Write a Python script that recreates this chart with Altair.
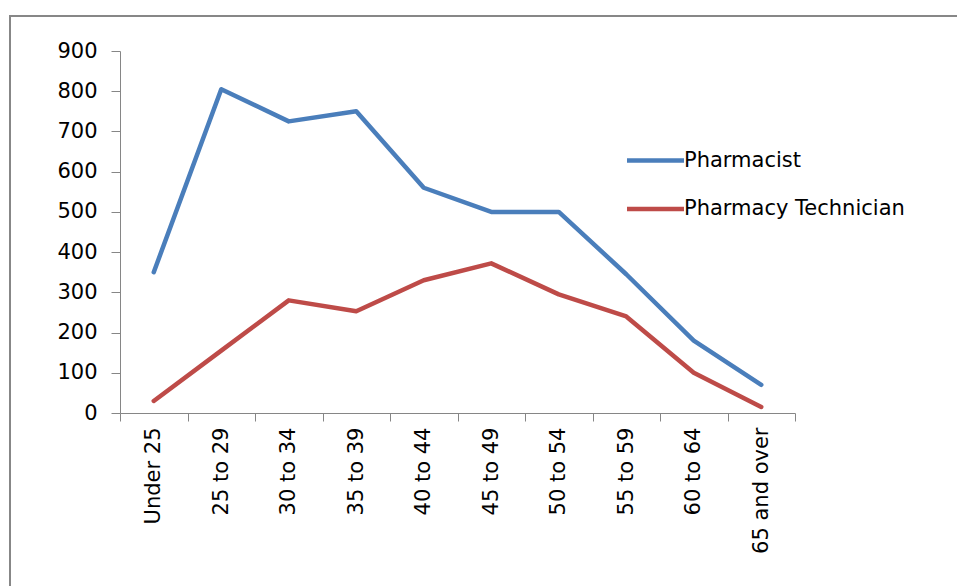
import altair as alt
import pandas as pd

# Age bands and head counts for each occupation
age_groups = ["Under 25", "25 to 29", "30 to 34", "35 to 39", "40 to 44",
              "45 to 49", "50 to 54", "55 to 59", "60 to 64", "65 and over"]
pharmacist = [350, 805, 725, 750, 560, 500, 500, 345, 180, 70]
technician = [30, 155, 280, 253, 330, 372, 295, 240, 100, 15]
series_names = ["Pharmacist", "Pharmacy Technician"]
series_colors = ["#4A7EBB", "#BE4B48"]

rows = []
for age, p, t in zip(age_groups, pharmacist, technician):
    rows.append({"age": age, "series": series_names[0], "count": p})
    rows.append({"age": age, "series": series_names[1], "count": t})
df = pd.DataFrame(rows)

FONT = "DejaVu Sans"
FONT_SIZE = 21
AXIS_GRAY = "#868686"

lines = alt.Chart(df).mark_line(strokeWidth=4.5, strokeJoin="round", strokeCap="round").encode(
    x=alt.X(
        "age:N",
        sort=age_groups,
        bandPosition=0.5,
        scale=alt.Scale(type="band", paddingInner=0, paddingOuter=0),
        axis=alt.Axis(
            title=None,
            labelAngle=270,
            labelFont=FONT,
            labelFontSize=FONT_SIZE,
            labelColor="#000000",
            labelPadding=6,
            labelLimit=0,
            tickBand="extent",
            tickSize=8,
            tickColor=AXIS_GRAY,
            domainColor=AXIS_GRAY,
            grid=False,
        ),
    ),
    y=alt.Y(
        "count:Q",
        scale=alt.Scale(domain=[0, 900], nice=False),
        axis=alt.Axis(
            title=None,
            values=list(range(0, 901, 100)),
            labelFont=FONT,
            labelFontSize=FONT_SIZE,
            labelColor="#000000",
            labelPadding=14,
            tickSize=9,
            tickColor=AXIS_GRAY,
            domainColor=AXIS_GRAY,
            grid=False,
        ),
    ),
    color=alt.Color(
        "series:N",
        sort=series_names,
        scale=alt.Scale(domain=series_names, range=series_colors),
        legend=alt.Legend(
            title=None,
            orient="none",
            legendX=519,
            legendY=93,
            padding=0,
            symbolType="M-2,0H2",
            symbolSize=812,
            symbolStrokeWidth=4.5,
            rowPadding=21.5,
            labelOffset=12,
            labelLimit=0,
            labelFont=FONT,
            labelFontSize=FONT_SIZE,
            labelColor="#000000",
        ),
    ),
    detail="series:N",
)

# Outer chart frame
frame = alt.Chart(pd.DataFrame({"k": [0]})).mark_rect(
    fillOpacity=0, stroke="#878787", strokeWidth=2
).encode(
    x=alt.value(-110),
    x2=alt.value(860),
    y=alt.value(-35),
    y2=alt.value(560),
)

chart = alt.layer(frame, lines).properties(
    width=675,
    height=362,
    padding={"left": 120, "top": 51, "right": 162, "bottom": 173},
    autosize=alt.AutoSizeParams(type="none"),
    background="white",
).configure_view(stroke=None)

chart.save("out.html", embed_options={"renderer": "svg", "actions": False})
